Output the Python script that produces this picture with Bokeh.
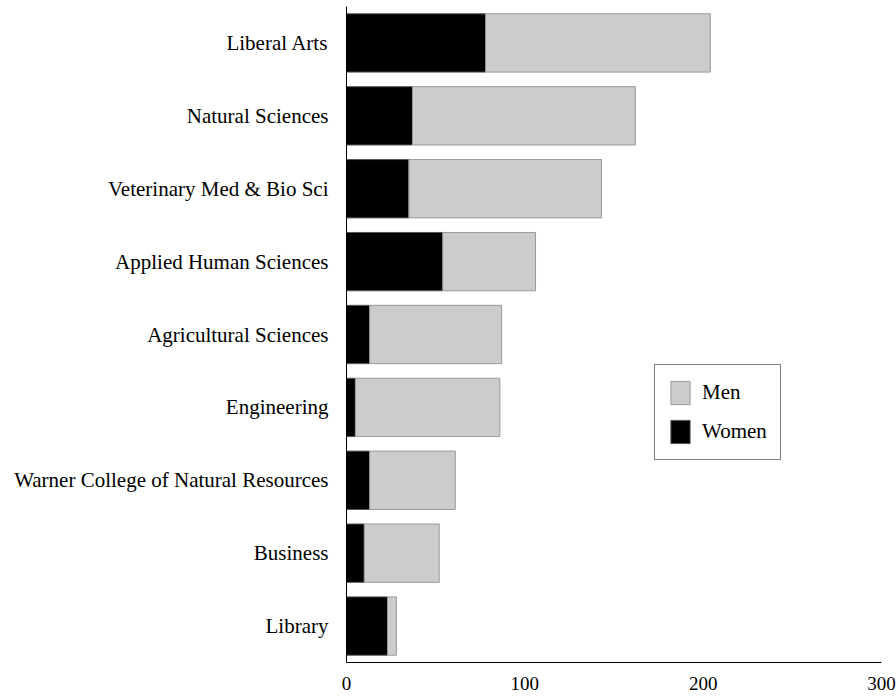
from bokeh.plotting import figure
from bokeh.models import FactorRange, Range1d, Legend, LegendItem, FixedTicker, ColumnDataSource
from bokeh.embed import file_html
from bokeh.resources import INLINE

colleges = ["Liberal Arts", "Natural Sciences", "Veterinary Med & Bio Sci",
            "Applied Human Sciences", "Agricultural Sciences", "Engineering",
            "Warner College of Natural Resources", "Business", "Library"]
women = [78, 37, 35, 54, 13, 5, 13, 10, 23]
men = [126, 125, 108, 52, 74, 81, 48, 42, 5]
x_ticks = [0, 100, 200, 300]

FONT = "Liberation Serif"

totals = [w + m for w, m in zip(women, men)]
src = ColumnDataSource(dict(college=colleges, women=women, men=men,
                            zero=[0] * len(colleges), total=totals))

p = figure(width=896, height=698, output_backend="svg", toolbar_location=None,
           y_range=FactorRange(factors=list(reversed(colleges)), range_padding=0),
           x_range=Range1d(0, 300),
           min_border_left=346, min_border_right=15, min_border_top=6,
           min_border_bottom=36)

r_women = p.hbar(y="college", left="zero", right="women", height=0.8, source=src,
                 fill_color="black", line_color="#555555", line_width=1)
r_men = p.hbar(y="college", left="women", right="total", height=0.8, source=src,
               fill_color="#cccccc", line_color="#999999", line_width=1)

p.outline_line_color = None
p.grid.visible = False
p.background_fill_color = "white"

p.xaxis.ticker = FixedTicker(ticks=x_ticks)
for ax in (p.xaxis[0], p.yaxis[0]):
    ax.major_tick_line_color = None
    ax.minor_tick_line_color = None
    ax.axis_line_color = "black"
    ax.axis_line_width = 1
    ax.major_label_text_font = FONT
    ax.major_label_text_color = "black"
p.xaxis.major_label_text_font_size = "19px"
p.xaxis.major_label_standoff = 8
p.yaxis.major_label_text_font_size = "21px"
p.yaxis.major_label_standoff = 12

legend = Legend(items=[LegendItem(label="Men", renderers=[r_men]),
                       LegendItem(label="Women", renderers=[r_women])],
                location=(308, 202), orientation="vertical",
                glyph_width=24, glyph_height=29, label_standoff=10,
                padding=13, spacing=10, margin=0,
                border_line_color="black", border_line_width=1,
                label_text_font=FONT, label_text_font_size="21px",
                label_text_color="black", background_fill_alpha=1)
p.add_layout(legend, "center")

open("out.html", "w").write(file_html(p, INLINE))
